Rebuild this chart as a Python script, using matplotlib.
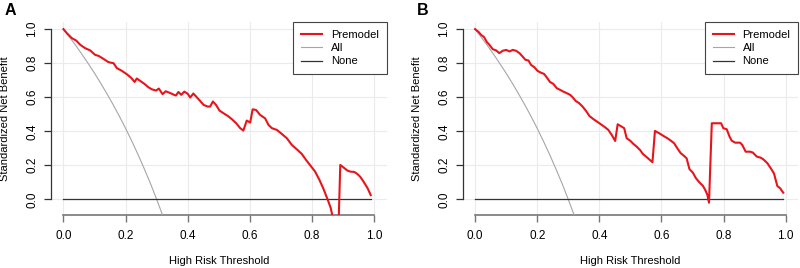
import matplotlib
matplotlib.use("Agg")
import matplotlib.pyplot as plt
from matplotlib.lines import Line2D

plt.rcParams['font.family'] = ['Liberation Sans', 'DejaVu Sans']

# ---------------- data ----------------
thr_a = [0.0, 0.011, 0.027, 0.041, 0.054, 0.070, 0.086, 0.102, 0.113, 0.129, 0.145, 0.161, 0.172,
         0.188, 0.204, 0.218, 0.229, 0.236, 0.247, 0.261, 0.273, 0.284, 0.298, 0.307, 0.319, 0.329,
         0.343, 0.356, 0.362, 0.370, 0.379, 0.389, 0.400, 0.408, 0.418, 0.433, 0.440, 0.451, 0.464,
         0.472, 0.481, 0.491, 0.502, 0.515, 0.529, 0.542, 0.556, 0.569, 0.579, 0.590, 0.601, 0.609,
         0.620, 0.633, 0.649, 0.660, 0.671, 0.687, 0.703, 0.719, 0.735, 0.751, 0.767, 0.781, 0.796,
         0.810, 0.824, 0.837, 0.851, 0.860, 0.870, 0.880, 0.891, 0.901, 0.914, 0.923, 0.936, 0.946,
         0.955, 0.966, 0.979, 0.989]
nb_a = [1.000, 0.976, 0.947, 0.933, 0.908, 0.888, 0.875, 0.849, 0.843, 0.825, 0.806, 0.800, 0.771,
        0.755, 0.735, 0.714, 0.690, 0.710, 0.696, 0.678, 0.659, 0.647, 0.639, 0.651, 0.618, 0.635,
        0.625, 0.614, 0.610, 0.631, 0.614, 0.633, 0.620, 0.598, 0.622, 0.592, 0.578, 0.555, 0.545,
        0.545, 0.575, 0.555, 0.522, 0.506, 0.490, 0.471, 0.447, 0.418, 0.404, 0.463, 0.451, 0.529,
        0.525, 0.496, 0.476, 0.437, 0.418, 0.408, 0.384, 0.359, 0.320, 0.294, 0.267, 0.231, 0.196,
        0.163, 0.114, 0.061, -0.004, -0.050, -0.130, -0.500, 0.202, 0.188, 0.169, 0.163, 0.161, 0.149,
        0.133, 0.104, 0.065, 0.025]

thr_b = [0.0, 0.011, 0.019, 0.029, 0.038, 0.046, 0.057, 0.068, 0.078, 0.089, 0.100, 0.111, 0.121,
         0.132, 0.143, 0.153, 0.162, 0.172, 0.180, 0.191, 0.201, 0.211, 0.222, 0.231, 0.241, 0.252,
         0.263, 0.274, 0.284, 0.295, 0.306, 0.314, 0.324, 0.335, 0.346, 0.357, 0.368, 0.381, 0.394,
         0.408, 0.418, 0.429, 0.440, 0.451, 0.459, 0.472, 0.480, 0.488, 0.499, 0.510, 0.520, 0.531,
         0.540, 0.553, 0.563, 0.571, 0.579, 0.593, 0.606, 0.619, 0.630, 0.641, 0.651, 0.662, 0.673,
         0.681, 0.690, 0.701, 0.711, 0.722, 0.733, 0.741, 0.748, 0.753, 0.762, 0.778, 0.792, 0.799,
         0.810, 0.819, 0.826, 0.837, 0.853, 0.860, 0.871, 0.885, 0.894, 0.907, 0.919, 0.928, 0.941,
         0.952, 0.962, 0.973, 0.982, 0.992]
nb_b = [1.000, 0.984, 0.967, 0.953, 0.924, 0.908, 0.882, 0.875, 0.859, 0.873, 0.878, 0.869, 0.878,
        0.873, 0.859, 0.839, 0.820, 0.816, 0.790, 0.776, 0.755, 0.745, 0.737, 0.716, 0.690, 0.678,
        0.653, 0.643, 0.633, 0.624, 0.614, 0.600, 0.578, 0.565, 0.545, 0.520, 0.490, 0.471, 0.455,
        0.437, 0.424, 0.408, 0.378, 0.343, 0.441, 0.427, 0.418, 0.359, 0.345, 0.325, 0.310, 0.290,
        0.267, 0.247, 0.231, 0.218, 0.402, 0.388, 0.373, 0.359, 0.345, 0.329, 0.300, 0.271, 0.255,
        0.241, 0.178, 0.157, 0.124, 0.100, 0.080, 0.055, 0.025, -0.020, 0.447, 0.447, 0.447, 0.418,
        0.412, 0.369, 0.345, 0.333, 0.333, 0.320, 0.280, 0.280, 0.275, 0.251, 0.245, 0.235, 0.212,
        0.182, 0.153, 0.078, 0.065, 0.039]

thr_all = [0.0, 0.02, 0.04, 0.06, 0.08, 0.10, 0.12, 0.14, 0.16, 0.18, 0.20, 0.22, 0.24, 0.26,
           0.28, 0.30, 0.32, 0.34]
nb_all_a = [1.000, 0.952, 0.903, 0.851, 0.797, 0.741, 0.682, 0.620, 0.556, 0.488, 0.417, 0.342,
            0.263, 0.180, 0.093, 0.000, -0.098, -0.202]
nb_all_b = [1.000, 0.952, 0.903, 0.851, 0.797, 0.741, 0.682, 0.620, 0.556, 0.488, 0.417, 0.342,
            0.263, 0.180, 0.093, 0.000, -0.098, -0.202]

thr_none = [0.0, 0.99]
nb_none = [0.0, 0.0]

ticks = [0.0, 0.2, 0.4, 0.6, 0.8, 1.0]
tick_labels = ["0.0", "0.2", "0.4", "0.6", "0.8", "1.0"]
panels = ["A", "B"]
legend_labels = ["Premodel", "All", "None"]

RED = "#E8141C"
GREY_ALL = "#A6A6A6"
NONE_C = "#333333"
GRID_C = "#EBEBEB"

fig = plt.figure(figsize=(8.0, 2.68), dpi=100)
positions = [[0.0638, 0.1978, 0.4194, 0.7201], [0.5783, 0.1978, 0.4194, 0.7201]]
data = [(thr_a, nb_a, nb_all_a), (thr_b, nb_b, nb_all_b)]

for i, (pos, (tx, ny, nall)) in enumerate(zip(positions, data)):
    ax = fig.add_axes(pos)
    ax.set_xlim(-0.04, 1.04)
    ax.set_ylim(-0.092, 1.042)
    for t in ticks:
        ax.axvline(t, color=GRID_C, lw=0.8, zorder=0)
        ax.axhline(t, color=GRID_C, lw=0.8, zorder=0)
    ax.plot(tx, ny, color=RED, lw=1.5, zorder=4, solid_joinstyle='round')
    ax.plot(thr_all, nall, color=GREY_ALL, lw=0.8, zorder=3)
    ax.plot(thr_none, nb_none, color=NONE_C, lw=0.9, zorder=3)

    for s in ["top", "right"]:
        ax.spines[s].set_visible(False)
    ax.spines["left"].set_bounds(0, 1)
    ax.spines["bottom"].set_bounds(0, 1)
    ax.spines["left"].set_color("#333333")
    ax.spines["bottom"].set_color("#777777")
    ax.spines["left"].set_linewidth(0.9)
    ax.spines["bottom"].set_linewidth(1.2)
    ax.set_xticks(ticks)
    ax.set_xticklabels(tick_labels, fontsize=8.5)
    ax.set_yticks(ticks)
    ax.set_yticklabels(tick_labels, fontsize=8.5, rotation=90, va='center')
    ax.tick_params(axis='x', length=5, width=1.0, color="#777777", pad=6)
    ax.tick_params(axis='y', length=5, width=0.9, color="#333333", pad=4)
    ax.set_xlabel("High Risk Threshold", fontsize=8)
    ax.set_ylabel("Standardized Net Benefit", fontsize=8)
    ax.xaxis.label.set_va('center')
    ax.yaxis.label.set_va('center')
    ax.xaxis.set_label_coords(0.5, -0.238)
    ax.yaxis.set_label_coords(-0.137, 0.5)

    handles = [Line2D([], [], color=RED, lw=1.5),
               Line2D([], [], color=GREY_ALL, lw=0.8),
               Line2D([], [], color=NONE_C, lw=0.9)]
    leg = ax.legend(handles, legend_labels, loc='upper right', bbox_to_anchor=(1.0, 1.0),
                    borderaxespad=0, fontsize=8, fancybox=False, framealpha=1,
                    edgecolor="#444444", handlelength=1.9, handletextpad=0.8,
                    labelspacing=0.3, borderpad=0.7)
    leg.get_frame().set_linewidth(0.8)

    fig.text(pos[0] - 0.0575, 0.988, panels[i],
             fontsize=11.5, fontweight='bold', ha='left', va='top')

fig.savefig("out.png", dpi=100)
